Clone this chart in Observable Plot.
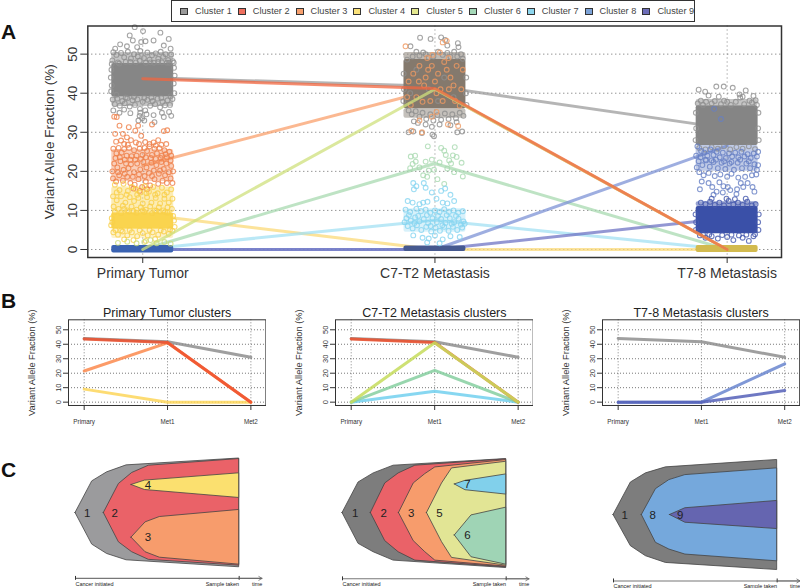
<!DOCTYPE html>
<html><head><meta charset="utf-8">
<script src="https://cdn.jsdelivr.net/npm/d3@7"></script>
<script src="https://cdn.jsdelivr.net/npm/@observablehq/plot@0.6"></script>
<style>
html,body{margin:0;padding:0;background:#fff}
#page{position:relative;width:800px;height:588px;overflow:hidden;font-family:"Liberation Sans",Arial,sans-serif;color:#222}
.tag{position:absolute;left:1px;font:bold 21px "Liberation Sans",Arial,sans-serif;color:#111;line-height:21px}
#legend{position:absolute;left:171px;top:0;width:522px;height:20px;border:1.5px solid #333;box-sizing:content-box;display:flex;align-items:center;font-size:9.2px;color:#444}
#legend div{width:57.8px;display:flex;align-items:center;padding-left:8px;box-sizing:border-box;white-space:nowrap}
#legend i{display:inline-block;width:6px;height:5px;border:1px solid #333;margin-right:7px;flex:none}
</style></head><body>
<div id="page">
<div class="tag" style="top:21px">A</div>
<div class="tag" style="top:290px">B</div>
<div class="tag" style="top:459px">C</div>
<div id="legend"></div>
</div>
<script>
// ---- cluster identity
const clusterNames = ["Cluster 1","Cluster 2","Cluster 3","Cluster 4","Cluster 5","Cluster 6","Cluster 7","Cluster 8","Cluster 9"];
const swatchColors = ["#9a9a9a","#ee6f5e","#f7a06e","#fbe27a","#e4e88f","#a5d8b8","#8dd6ee","#7da3d8","#6d6db8"];
const lineColorsA  = ["#9c9c9c","#f2653f","#f9a06c","#fbd978","#cfe07c","#a8d9b0","#a3e0f3","#7e93d6","#6f74c4"];
const lineColorsB  = ["#8e8e8e","#ee4f2c","#fb8a4e","#fdd65a","#c6dc5c","#86cfa0","#72d0ef","#6a86cf","#5560b8"];

// ---- cluster means (VAF %) in samples 0,1,2
const meanC1 = [44,41.8,31];
const meanC2 = [43.7,41.2,0];
const meanC3 = [21.5,41,0];
const meanC4 = [9,0,0];
const meanC5 = [0,41,0];
const meanC6 = [0,22,0];
const meanC7 = [0,7.5,0];
const meanC8 = [0,0,26.5];
const meanC9 = [0,0,8];
const means = [meanC1,meanC2,meanC3,meanC4,meanC5,meanC6,meanC7,meanC8,meanC9];

const sampleNames = ["Primary Tumor","C7-T2 Metastasis","T7-8 Metastasis"];
const sampleShort = ["Primary","Met1","Met2"];
const yTicks = [0,10,20,30,40,50];
const yLabel = "Variant Allele Fraction (%)";

// ---- scattered mutations: [offset within the column (-100..100), VAF]
const pGray = [[-26,56.9],[1,55.9],[-42,54.8],[57,55.5],[-32,53.5],[-5,53.1],[9,53.3],[84,53.9],[35,53.5],[-73,52.5],[-89,51.4],[-51,52],[-18,51.8],[68,52.2],[90,51.4],[-95,50.5],[-85,49.8],[-70,50.3],[-60,49.2],[-48,50.6],[-38,48.9],[-28,50],[-16,49.4],[-8,50.8],[4,49],[15,50.4],[22,48.6],[30,49.7],[42,50.2],[50,48.8],[58,50.6],[66,49.3],[74,50],[82,48.5],[92,49.9],[97,48.2],[-98,48.4],[-80,47.9],[-55,48],[-22,47.9],[10,47.8],[36,47.8],[62,47.9],[86,47.8],[-97,38.4],[-90,37.2],[-82,38.6],[-74,36.8],[-66,38],[-58,37.4],[-50,38.7],[-42,36.6],[-33,38.2],[-25,37],[-17,38.4],[-9,36],[0,37.8],[8,35.6],[15,38.3],[24,36.8],[32,38],[40,37.2],[48,38.6],[56,36.4],[64,37.8],[72,36.9],[80,38.2],[88,37],[96,38.5],[-95,35.6],[-75,35],[-60,35.8],[-40,34.9],[-10,34.2],[-2,33.6],[5,33],[-14,33],[12,34.6],[35,34.4],[62,35],[68,33.9],[85,35.2],[92,34.2],[38,32.6],[-8,35],[-101,46],[-103,44],[-100,42],[-102,40.5],[101,46.5],[103,44.5],[100,42.5],[102,40],[-100,47.5],[100,47.8],[-76,47.6],[-40,48],[-10,48.3],[25,47.9],[50,48],[78,47.8],[-85,39.6],[-55,38.9],[-28,39],[5,38.8],[28,38.9],[60,38.8],[90,39.2]];
const pOrange = [[-92,34],[-84,33.9],[-75,31.7],[-45,31.3],[-15,31.7],[30,32],[68,30.3],[79,30.5],[-89,29.6],[-64,29.6],[-51,28.7],[-24,30.4],[-5,29.1],[8,27.5],[-70,27.9],[-38,28],[-12,27],[35,27.4],[50,28],[-95,25.8],[-85,24.6],[-78,26],[-68,24.8],[-60,25.7],[-52,24],[-44,26],[-36,23.9],[-28,25.4],[-20,24],[-10,25.8],[-1,24.2],[6,26],[14,25.2],[22,26.4],[30,24.2],[38,25.8],[46,24.6],[54,25.9],[62,24],[70,25.4],[78,23.6],[86,25],[92,24],[-92,22],[-82,21],[-72,22.6],[-62,20.4],[-54,22],[-46,20.8],[-38,21.8],[-28,19.8],[-18,22],[-8,20.5],[2,22.4],[12,21],[20,19.6],[28,22.2],[36,20.2],[44,21.6],[52,19.4],[60,22.4],[68,20.6],[76,22],[84,19.8],[92,21.4],[-96,18.2],[-86,17.4],[-76,19],[-64,17.6],[-50,18.6],[-40,17],[-26,16.6],[-14,18],[-2,16],[10,17.4],[24,16.4],[38,18],[50,16.8],[64,17.6],[78,17],[90,18.2],[96,17],[-30,15.6],[-10,15],[14,15.4],[-88,23.4],[-74,23.6],[-58,23],[-40,23],[-24,23],[-6,23.2],[10,23.6],[26,23.4],[42,23.2],[58,23.4],[74,24.4],[90,22.8],[-98,20],[-80,19.8],[-58,19.4],[-32,18.6],[-12,19.2],[6,18.8],[30,18.8],[56,20.2],[72,19],[98,20],[-60,27],[-48,26.8],[-22,27.4],[22,27],[42,26.6],[60,26.8],[-86,27.6],[76,27]];
const pYellow = [[-90,16.6],[-75,15.2],[-62,16.8],[-48,15],[-35,16],[-22,15.4],[-8,14.6],[6,16.2],[20,14.8],[34,16],[48,14.4],[62,15.8],[78,14.6],[92,15.4],[-96,13.6],[-84,12.6],[-70,13.6],[-56,12],[-42,13.4],[-28,12.4],[-14,13.2],[0,11.8],[14,13.4],[28,12],[42,13.2],[56,11.8],[70,13],[84,12],[96,13],[-94,11],[-78,10.4],[-64,11.2],[-50,10],[-36,11],[-20,10.2],[-6,10.8],[10,10.2],[24,11],[38,10],[52,10.8],[66,10],[80,10.8],[94,10.4],[-90,9.6],[-70,9.3],[-45,9.7],[-20,9.4],[5,9.6],[30,9.3],[55,9.7],[80,9.4],[98,8.6],[-98,7],[-95,4.4],[-80,3.8],[-65,4.6],[-50,3.6],[-35,4.4],[-18,3.4],[0,4.2],[16,3.6],[32,4.4],[50,3.8],[68,4.6],[84,4],[96,4.8],[-60,2.6],[-30,2.4],[10,2.2],[40,2.7],[-100,8],[-102,6.2],[101,7.4],[103,5.8],[-88,5],[-70,4.9],[-42,5],[-10,4.9],[22,5],[58,4.9],[88,5.1],[-84,14.6],[-52,14],[-18,14],[12,14.4],[40,14],[70,14],[-60,10.4],[-30,9.8],[0,10],[44,9.9],[72,9.6]];
const pLime = [[-80,1.7],[-50,2],[-20,1.6],[5,1.9],[25,2.4],[45,1.6],[70,1.9],[90,1.5]];
const mGray = [[-48,54.2],[-79,52],[-14,53.9],[20,54.3],[33,53.6],[74,52.8],[76,51.8],[40,52.2],[-60,50.6],[-50,49.6],[-38,50.4],[-20,49.2],[-30,50],[-5,49.4],[10,50.6],[25,49.8],[40,50.3],[50,49.3],[62,50.6],[72,49.4],[84,50],[-90,48.6],[-72,49.4],[90,48.8],[-85,35.6],[-75,34.6],[-62,35.4],[-50,34],[-40,35],[-28,33.4],[-15,34.6],[-5,33],[8,34.4],[20,33.2],[32,34.8],[44,33.4],[56,34.6],[68,33.6],[80,35],[92,34.2],[-68,32.8],[-55,32.4],[-30,32],[-10,31.4],[15,32],[50,31.8],[70,32.6],[-85,30],[-70,30.2],[-42,29.8],[-8,29.4],[-3,29],[72,30],[88,30.2],[-60,46],[-20,41],[30,44],[60,39],[-80,40],[10,38],[-101,45],[-100,41],[-102,38],[101,44],[100,40],[102,37]];
const mOrange = [[-95,52],[25,53],[38,53.4],[-8,49.8],[16,50.4],[44,49],[-25,49],[-76,30.4],[-42,30],[-50,33],[-10,34],[5,35.2],[42,32],[75,31.6],[-70,45],[-50,47],[-30,44],[-10,47],[10,45],[30,48],[50,44],[70,47],[85,41],[-85,43],[-60,39],[-35,42],[-15,38],[5,40],[25,38],[45,41],[65,38],[80,36.8],[-78,37],[-40,37.8],[0,43],[18,41],[38,46],[60,42],[-22,46],[-90,39],[-52,43],[90,46]];
const mGreen = [[-23,26.4],[20,26],[30,25.3],[64,26.2],[-64,24],[-78,23.8],[35,24.2],[58,24.1],[70,23.7],[-62,22.5],[-72,21.9],[-30,22.5],[15,22.3],[46,22.8],[-10,23],[52,22],[86,22.2],[-50,21],[-80,20.8],[-20,20.2],[-3,20.4],[40,20.7],[-38,19],[62,19.8],[90,18.7],[30,16.8],[8,18],[-25,18.6]];
const mCyan = [[-70,17],[-60,16.2],[-68,15.4],[-36,17],[-30,15.8],[-10,14.6],[20,15],[33,15.6],[50,14],[-88,12.4],[-72,12],[-50,11.6],[-38,12],[-24,12.2],[5,13],[25,12],[40,11.8],[62,12.4],[-95,10.2],[-80,9.6],[-60,10.4],[-45,9.8],[-30,10.2],[-15,9.4],[0,10],[15,9.6],[30,10.3],[45,9.6],[60,10],[75,9.4],[90,9.8],[-92,8],[-78,7.4],[-64,8.2],[-50,7.2],[-36,7.8],[-22,6.8],[-8,8],[6,7],[20,7.8],[34,6.8],[48,8],[62,7],[76,7.9],[92,7.2],[-88,6],[-72,5.4],[-58,6.2],[-44,5],[-28,5.8],[-12,4.6],[2,5.6],[16,4.8],[30,5.8],[44,4.8],[58,5.8],[72,5],[88,5.6],[-70,3.6],[-40,3],[-20,2.8],[0,3.6],[25,2.6],[50,3.4],[80,3.2],[-25,1.8],[15,1.6],[-84,8.8],[-54,8.6],[-26,8.8],[10,8.6],[38,8.8],[68,8.6],[96,6.6],[-98,7],[-66,6.8],[-14,6],[24,6.2],[54,6.6],[84,6.4]];
const tGray = [[-92,40.9],[-71,40.4],[-35,41.7],[-11,41.7],[18,41.4],[60,40.7],[40,39.7],[50,39.1],[85,39.3],[92,38.2],[-85,38.1],[-60,39.4],[-27,39.1],[-10,38.1],[42,38.9],[72,38.1],[-95,37.4],[-78,37],[-68,37.8],[-50,37.4],[-40,38],[-20,37.2],[0,37.8],[12,37],[28,37.8],[55,37.2],[80,37.6],[96,37],[-90,26],[-70,25.6],[-50,26.2],[-30,25.8],[-10,26.4],[10,25.6],[30,26.2],[50,25.8],[70,26.4],[90,25.7],[-101,35],[-100,31],[-102,28],[101,35],[100,31],[102,28]];
const tBlue = [[-42,36],[-20,33.4],[-96,26.4],[-84,25.2],[-74,24.8],[-64,24],[-54,25.6],[-44,24.2],[-34,25],[-24,23.6],[-14,24.8],[-4,23.4],[6,24.6],[16,23.8],[26,24.8],[36,23.6],[46,25],[56,23.8],[66,24.4],[76,23.4],[86,24.6],[96,23.8],[-92,22.6],[-80,21.6],[-68,22.8],[-56,21.2],[-44,22.4],[-30,20.8],[-18,22.2],[-6,20.6],[8,22],[22,20.4],[34,22.2],[48,20.8],[62,22],[74,20.8],[88,21.8],[96,20.4],[-90,19.8],[-76,19],[-60,19.6],[-40,18.8],[-22,19.2],[0,18.6],[14,19.4],[36,18.4],[58,18.6],[80,19],[94,19.2],[-82,17.4],[-60,17],[-48,16],[-25,17.2],[-12,16.2],[2,16],[10,15.2],[32,15.4],[44,17],[52,16],[66,17],[82,16],[88,14.8],[-88,15.4],[-34,14.8],[-14,14.6],[-44,14],[30,14.2],[-86,23.6],[-70,23],[-50,22.8],[-36,23],[-10,22.6],[14,22.4],[42,23],[70,22.6],[-100,24],[100,25],[-98,21],[100,21.6]];
const tIndigo = [[-85,12],[-70,11.6],[-55,12.2],[-40,11.4],[-25,12],[-10,11.3],[5,12.4],[20,11.5],[35,12],[50,11.4],[65,12.2],[80,11.3],[92,11.6],[-50,13],[-2,13],[25,12.9],[60,13],[-88,3.6],[-70,3],[-50,3.4],[-30,2.8],[0,3.2],[20,2.4],[50,3],[70,2.2],[85,3.4],[-102,9],[-100,7],[-101,5],[102,9],[100,7],[101,5],[-78,3.9],[-58,3.8],[-16,3.7],[14,3.8],[38,3.6],[62,3.8],[90,3.9]];

// each list of scattered mutations: sample column, colour
const scatter = [
 [0,"#8f8f8f",pGray],[0,"#ef7f48",pOrange],[0,"#f9d04a",pYellow],[0,"#c9dc7a",pLime],
 [1,"#8f8f8f",mGray],[1,"#f09a62",mOrange],[1,"#a9dab0",mGreen],[1,"#86d4f0",mCyan],
 [2,"#8f8f8f",tGray],[2,"#6680c4",tBlue],[2,"#4458ac",tIndigo]
];
// regions so crowded that single mutations cannot be read: [sample, low VAF, high VAF, colour, opacity]
const crowded = [
 [0,47.6,50.4,"#8c8c8c",.5],[0,36.6,39,"#8c8c8c",.5],[0,39,47.6,"#868686",1],
 [0,17.4,25.6,"#f08a58",.42],[0,9.4,16,"#fad96a",.5],[0,5.2,9.4,"#fad44e",1],[0,2.8,5.2,"#fad96a",.35],[0,-0.9,1,"#3a63b2",1],
 [1,48.6,50.4,"#8a8177",.55],[1,33.6,36,"#8a8177",.5],[1,36,48.6,"#84796d",1],
 [1,4.4,10.4,"#86d4f0",.32],[1,-0.5,0.9,"#46598f",1],
 [2,36.8,38.4,"#8c8c8c",.5],[2,26.6,36.8,"#858585",1],[2,20,26.6,"#6680c4",.42],[2,11,12.2,"#4458ac",.55],[2,4,11,"#3a50a8",1],[2,-0.8,1,"#d2ba4e",1]
];

// ---- fish plots: [time, upper edge, lower edge]
const fish1c1 = [[0,0,0],[10.2,29,-29],[19.3,37.3,-37.6],[31.2,43.7,-43.4],[100,50,-49.8]];
const fish1c2 = [[17.3,0,0],[26.5,26.6,-26.9],[34.6,36.7,-36],[44.8,43.4,-43],[100,49.5,-48.3]];
const fish1c4 = [[34.2,25.7,25.7],[42.4,29.7,21.1],[100,36.4,13.8]];
const fish1c3 = [[34.2,-22.6,-22.6],[42.8,-8.6,-36],[51.5,-3.7,-41],[100,2.8,-47.4]];
const fish2c1 = [[0,0,0],[9.8,28,-28.3],[19,36.3,-36],[31.2,43.4,-43.7],[100,49.5,-50.5]];
const fish2c2 = [[17.3,0,0],[26.1,27.1,-25.8],[34.3,36.3,-36],[44.5,43.4,-43.7],[100,49.2,-49.8]];
const fish2c3 = [[34.5,0,0],[43.5,27.1,-25.8],[50.6,35.7,-36],[56.7,41.8,-43.7],[100,48.6,-49.2]];
const fish2c5 = [[51.6,0,0],[60.8,27.1,-26.8],[66.9,40.9,-41.2],[100,47,-48.3]];
const fish2c7 = [[68.6,26.2,26.2],[75.1,29.5,20.9],[100,35.4,16.9]];
const fish2c6 = [[68.6,-20.6,-20.6],[78.8,-2.2,-40.6],[100,4.9,-47.4]];
const fish3c1 = [[0,0,0],[10.6,29.8,-28.6],[19.8,38.2,-37.8],[32,43.7,-44],[100,50.5,-50.5]];
const fish3c8 = [[17.3,0,0],[25.9,23.7,-25.5],[34.1,32,-31.7],[43.9,36.6,-36.3],[100,42.8,-42.5]];
const fish3c9 = [[34.5,0,0],[43.9,6.2,-7.1],[100,12.9,-12.9]];
const fishFill = {c1a:"#9b9b9d",c1:"#7d7d7d",c2:"#ea6268",c3:"#f79c6c",c4:"#fbe06f",c5:"#e2e595",c6:"#9fd4b5",c7:"#81d0eb",c8:"#75a8dc",c9:"#6565b0"};
const fishLabels1 = [["1",7.1,0],["2",24,0],["4",44.2,25.7],["3",44.2,-22.6]];
const fishLabels2 = [["1",7.8,0],["2",25.1,0],["3",42,0],["5",59.2,0],["7",76.3,26.2],["6",76.3,-20.6]];
const fishLabels3 = [["1",6.9,0],["8",23.9,0],["9",40.8,0]];

const font = '"Liberation Sans",Arial,sans-serif';
const page = document.getElementById("page");
function place(svg){ page.appendChild(svg); }

// ---- legend
const lg = document.getElementById("legend");
clusterNames.forEach((n,i)=>{
  const d=document.createElement("div");
  d.innerHTML=`<i style="background:${swatchColors[i]}"></i>${n}`;
  lg.appendChild(d);
});

// ---- panel A
const longA = means.flatMap((m,c)=>m.map((v,i)=>({c,i,v,color:lineColorsA[c]})));
const halfWidth = 0.106;
const dots = scatter.flatMap(([col,color,pts])=>pts.map(([dx,v])=>({x:col+dx/100*halfWidth,v,color})));
const bands = crowded.map(([col,lo,hi,color,op])=>({x1:col-halfWidth,x2:col+halfWidth,lo,hi,color,op}));
const lineOpts = (data)=>Plot.line(data,{x:"i",y:"v",z:"c",stroke:"color",strokeWidth:3,strokeOpacity:.75});

place(Plot.plot({
  width:800,height:285,marginLeft:87.3,marginRight:19,marginTop:25.5,marginBottom:28,
  style:{position:"absolute",left:"0",top:"0",maxWidth:"none",fontFamily:font,background:"none",color:"#222"},
  color:{type:"identity"},
  opacity:{type:"identity"},
  x:{domain:[-0.188,2.186],axis:null},
  y:{domain:[-2.05,57.2],axis:null},
  marks:[
    Plot.gridY(yTicks,{stroke:"#666",strokeOpacity:1,strokeDasharray:"1,3"}),
    Plot.gridX([0,1,2],{stroke:"#666",strokeOpacity:.8,strokeDasharray:"1,3"}),
    lineOpts(longA.filter(d=>![1,4].includes(d.c))),
    Plot.rect(bands,{x1:"x1",x2:"x2",y1:"lo",y2:"hi",fill:"color",fillOpacity:"op",rx:2}),
    Plot.dot(dots,{x:"x",y:"v",stroke:"color",r:2.4,strokeWidth:1.1,strokeOpacity:.8,fill:"none"}),
    lineOpts(longA.filter(d=>d.c===4)),
    lineOpts(longA.filter(d=>d.c===1)),
    Plot.frame({stroke:"#333",strokeWidth:1.5}),
    Plot.axisY(yTicks,{tickRotate:-90,tickSize:7,tickPadding:4,fontSize:13.5,label:null,stroke:"#333",color:"#333"}),
    Plot.text([yLabel],{frameAnchor:"left",textAnchor:"middle",rotate:-90,dx:-38,fontSize:13.5,fill:"#333"}),
    Plot.axisX([0,1,2],{tickFormat:i=>sampleNames[i],tickSize:6,tickPadding:5,fontSize:14,label:null,stroke:"#333",color:"#333"})
  ]
}));

// ---- panels B
const panelsB = [
 {title:"Primary Tumor clusters",left:68.3,right:265.7,order:[0,3,2,1]},
 {title:"C7-T2 Metastasis clusters",left:335,right:532.7,order:[0,6,5,1,4]},
 {title:"T7-8 Metastasis clusters",left:602.3,right:799.5,order:[0,7,8]}
];
panelsB.forEach(p=>{
  const long = p.order.flatMap(c=>means[c].map((v,i)=>({c,i,v,color:lineColorsB[c]})));
  const w = p.right-p.left, ml=50, mr=0.5;
  place(Plot.plot({
    width:ml+w+mr,height:135,marginLeft:ml,marginRight:mr,marginTop:19.3,marginBottom:30,
    style:{position:"absolute",left:(p.left-ml)+"px",top:"300px",maxWidth:"none",fontFamily:font,background:"none"},
    color:{type:"identity"},
    x:{domain:[-0.188,2.18],axis:null},
    y:{domain:[-2.3,56.9],axis:null},
    marks:[
      Plot.gridY(yTicks,{stroke:"#666",strokeOpacity:.9,strokeDasharray:"1,2"}),
      Plot.gridX([0,1,2],{stroke:"#666",strokeOpacity:.8,strokeDasharray:"1,2"}),
      Plot.line(long,{x:"i",y:"v",z:"c",stroke:"color",strokeWidth:3,strokeOpacity:.85}),
      Plot.frame({stroke:"#333",strokeWidth:1}),
      Plot.axisY(yTicks,{tickRotate:-90,tickSize:5,tickPadding:3,fontSize:7.5,label:null,stroke:"#333",color:"#333"}),
      Plot.text([yLabel],{frameAnchor:"left",textAnchor:"middle",rotate:-90,dx:-36,fontSize:9.3,fill:"#333"}),
      Plot.axisX([0,1,2],{tickFormat:i=>sampleShort[i],tickSize:5,tickPadding:9,fontSize:6.3,label:null,stroke:"#333",color:"#333"}),
      Plot.text([p.title],{frameAnchor:"top",dy:-3,lineAnchor:"bottom",fontSize:12.5,fill:"#222"})
    ]
  }));
});

// ---- panels C
const layer=(pts,fill)=>Plot.areaY(pts,{x:d=>d[0],y1:d=>d[1],y2:d=>d[2],fill,stroke:"#444",strokeWidth:.8,curve:"linear"});
const fishPanels = [
 {left:75,center:512.3,layers:[[fish1c1,fishFill.c1a],[fish1c2,fishFill.c2],[fish1c4,fishFill.c4],[fish1c3,fishFill.c3]],labels:fishLabels1,axisY:-60,textY:-65.6},
 {left:342.3,center:512.7,layers:[[fish2c1,fishFill.c1],[fish2c2,fishFill.c2],[fish2c3,fishFill.c3],[fish2c5,fishFill.c5],[fish2c7,fishFill.c7],[fish2c6,fishFill.c6]],labels:fishLabels2,axisY:-60.4,textY:-65.6},
 {left:612.7,center:514,layers:[[fish3c1,fishFill.c1],[fish3c8,fishFill.c8],[fish3c9,fishFill.c9]],labels:fishLabels3,axisY:-60.5,textY:-65.2}
];
const timeStart=[0], timeSample=[100], timeEnd=114, timeWordAt=111;
fishPanels.forEach(f=>{
  const ml=5, mr=32, mt=5, mb=30, w=163.7, h=109;
  place(Plot.plot({
    width:ml+w+mr,height:mt+h+mb,marginLeft:ml,marginRight:mr,marginTop:mt,marginBottom:mb,
    style:{position:"absolute",left:(f.left-ml)+"px",top:(f.center-h/2-mt)+"px",maxWidth:"none",fontFamily:font,background:"none"},
    x:{domain:[0,100],axis:null},
    y:{domain:[-50,50],axis:null},
    marks:[
      ...f.layers.map(([pts,fill])=>layer(pts,fill)),
      Plot.text(f.labels,{x:d=>d[1],y:d=>d[2],text:d=>d[0],fontSize:11.5,fill:"#222"}),
      Plot.ruleY([f.axisY],{x1:0,x2:timeEnd,stroke:"#777",strokeWidth:1.1}),
      Plot.ruleX([...timeStart,...timeSample],{y1:f.axisY-1.8,y2:f.axisY+1.8,stroke:"#333",strokeWidth:1}),
      Plot.arrow([{a:100,b:timeEnd,y:f.axisY}],{x1:"a",x2:"b",y1:"y",y2:"y",stroke:"#666",strokeWidth:.8,headLength:7}),
      Plot.text(["Cancer initiated"],{x:0,y:f.textY,textAnchor:"start",fontSize:5.5,fill:"#222"}),
      Plot.text(["Sample taken"],{x:100,y:f.textY,textAnchor:"end",fontSize:5.5,fill:"#222"}),
      Plot.text(["time"],{x:timeWordAt,y:f.textY,fontSize:5.5,fill:"#222"})
    ]
  }));
});
</script>
</body></html>
